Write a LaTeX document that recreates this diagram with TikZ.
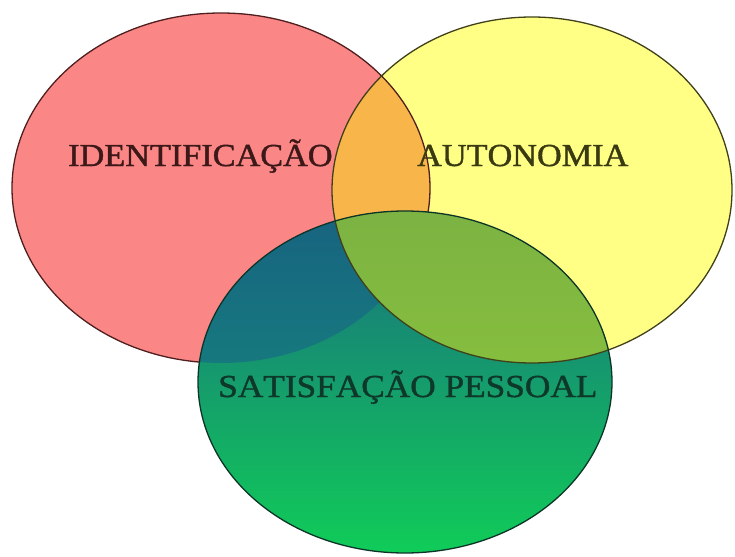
\documentclass[tikz,border=0pt]{standalone}
\usepackage{fontspec}
\setmainfont{Liberation Serif}
\newfontfamily\vennfont[Kerning=Off,FakeBold=1.2]{Liberation Serif}
\definecolor{identfill}{RGB}{250,134,134}
\definecolor{autofill}{RGB}{255,255,134}
\definecolor{bothfill}{RGB}{248,182,74}
\definecolor{greentop}{RGB}{26,108,128}
\definecolor{greenmid}{RGB}{22,150,118}
\definecolor{greenbottom}{RGB}{16,204,88}
\definecolor{tealtop}{RGB}{24,98,128}
\definecolor{tealbottom}{RGB}{22,122,126}
\definecolor{olivetop}{RGB}{124,178,66}
\definecolor{olivebottom}{RGB}{134,190,62}
\definecolor{identrim}{RGB}{80,30,30}
\definecolor{autorim}{RGB}{64,64,26}
\definecolor{greenrim}{RGB}{12,52,40}
\tikzset{
	rim/.style={line width=1.3pt},
	venntext/.style={anchor=base west,inner sep=0pt,font=\vennfont\fontsize{32}{32}\selectfont,xscale=1.07}
}
\begin{document}
\begin{tikzpicture}[x=1pt,y=-1pt]
	\useasboundingbox (0,0) rectangle (735,556);
	
	\fill[identfill] (221,188) ellipse [x radius=209pt,y radius=175pt];
	\fill[autofill] (532,190) ellipse [x radius=200pt,y radius=173pt];
	\begin{scope}
		\clip (221,188) ellipse [x radius=209pt,y radius=175pt];
		\fill[bothfill] (532,190) ellipse [x radius=200pt,y radius=173pt];
	\end{scope}
	\draw[rim,identrim] (221,188) ellipse [x radius=209pt,y radius=175pt];
	
	\shade[top color=greentop,middle color=greenmid,bottom color=greenbottom] (405,382) ellipse [x radius=207pt,y radius=171pt];
	\begin{scope}
		\clip (405,382) ellipse [x radius=207pt,y radius=171pt];
		\clip (221,188) ellipse [x radius=209pt,y radius=175pt];
		\shade[top color=tealtop,bottom color=tealbottom] (190,205) rectangle (440,370);
	\end{scope}
	\begin{scope}
		\clip (405,382) ellipse [x radius=207pt,y radius=171pt];
		\clip (532,190) ellipse [x radius=200pt,y radius=173pt];
		\shade[top color=olivetop,bottom color=olivebottom] (320,205) rectangle (620,370);
	\end{scope}
	
	\draw[rim,autorim] (532,190) ellipse [x radius=200pt,y radius=173pt];
	\draw[rim,greenrim] (405,382) ellipse [x radius=207pt,y radius=171pt];
	
	\node[venntext,text={rgb,255:red,60;green,24;blue,24}] (ident) at (68,166) {IDENTIFICAÇÃO};
	\node[venntext,text={rgb,255:red,58;green,58;blue,18}] (auto) at (417,166) {AUTONOMIA};
	\node[venntext,text={rgb,255:red,14;green,56;blue,42},xscale=1.03] (satis) at (218,397) {SATISFAÇÃO PESSOAL};
\end{tikzpicture}
\end{document}
